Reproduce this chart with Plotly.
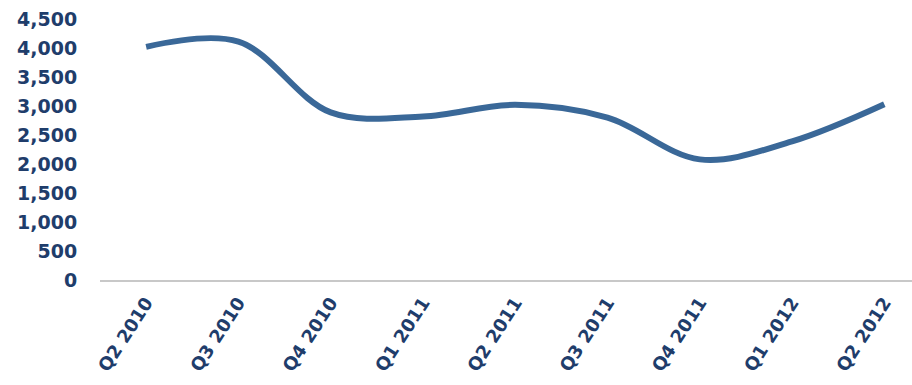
import plotly.graph_objects as go

categories = ["Q2 2010", "Q3 2010", "Q4 2010", "Q1 2011", "Q2 2011",
              "Q3 2011", "Q4 2011", "Q1 2012", "Q2 2012"]
values = [4020, 4110, 2890, 2820, 3020, 2800, 2080, 2390, 3030]
y_ticks = [0, 500, 1000, 1500, 2000, 2500, 3000, 3500, 4000, 4500]
y_tick_labels = ["0", "500", "1,000", "1,500", "2,000", "2,500", "3,000", "3,500", "4,000", "4,500"]

text_color = "#1F3D6B"
font_family = "DejaVu Sans"

fig = go.Figure()
fig.add_trace(go.Scatter(
    x=list(range(len(categories))), y=values, mode="lines",
    line=dict(color="#3A6898", width=6, shape="spline", smoothing=1.0),
    hoverinfo="skip", showlegend=False,
))

fig.update_layout(
    width=912, height=385,
    margin=dict(l=100, r=0, t=19, b=105),
    paper_bgcolor="white", plot_bgcolor="white",
    font=dict(family=font_family, color=text_color, size=18),
    xaxis=dict(
        range=[-0.5, 8.3], tickmode="array", automargin=False,
        tickvals=list(range(len(categories))), ticktext=categories,
        tickangle=-57, showgrid=False, zeroline=False,
        showline=True, linecolor="#C8C8C8", linewidth=2,
        ticks="outside", ticklen=3, tickcolor="rgba(0,0,0,0)",
        tickfont=dict(family=font_family, size=18, color=text_color, weight="bold"),
    ),
    yaxis=dict(
        range=[0, 4500], tickmode="array", tickvals=y_ticks, ticktext=y_tick_labels,
        automargin=False,
        showgrid=False, zeroline=False, showline=False,
        ticks="outside", ticklen=18, tickcolor="rgba(0,0,0,0)",
        tickfont=dict(family=font_family, size=19, color=text_color, weight="bold"),
    ),
)

fig.write_html("out.html")
